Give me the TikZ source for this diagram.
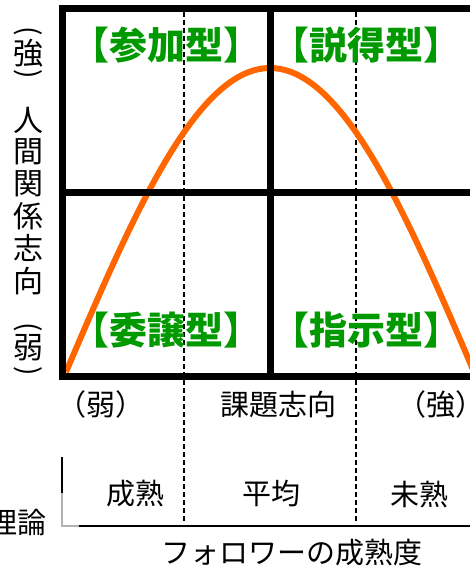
\documentclass[tikz,border=0pt]{standalone}
\usepackage{fontspec}
\newfontfamily\cjk{Noto Sans CJK JP}
\definecolor{lgreen}{HTML}{009900}
\definecolor{lorange}{HTML}{FF6600}
\begin{document}
\begin{tikzpicture}[x=1pt,y=-1pt,
  frameline/.style={line width=7pt, black},
  dashline/.style={line width=1.5pt, black, dash pattern=on 5pt off 3pt},
  thinline/.style={line width=1.5pt, black},
  greyline/.style={line width=1.5pt, black!30},
  curveline/.style={line width=6pt, lorange},
  glab/.style={inner sep=0pt, text=lgreen, font=\cjk\bfseries\fontsize{38}{40}\selectfont},
  blab/.style={inner sep=0pt, text=black, font=\cjk\fontsize{29}{31}\selectfont},
  vlab/.style={inner sep=0pt, text=black, font=\cjk\fontsize{30}{31}\selectfont},
  vparen/.style={inner sep=0pt, text=black, rotate=-90, font=\cjk\fontsize{28}{30}\selectfont},
  ]
\useasboundingbox (0,0) rectangle (470,567);
\clip (0,0) rectangle (470,567);
% dashed guides
\coordinate (d1t) at (184,12);
\coordinate (d1b) at (184,523);
\coordinate (d2t) at (356,12);
\coordinate (d2b) at (356,523);
\draw[dashline] (d1t) -- (d1b);
\draw[dashline] (d2t) -- (d2b);
% curve
\draw[curveline] plot[domain=66:474, samples=120, smooth] (\x, {372-304*sin(0.4411765*(\x-66))});
% frame
\draw[frameline] (62,8.5) rectangle (490,376);
\draw[frameline] (62,192) -- (490,192);
\draw[frameline] (270,8.5) -- (270,376);
% quadrant labels
\node[glab] (q1) at (166,45) {【参加型】};
\node[glab] (q2) at (366,45) {【説得型】};
\node[glab] (q3) at (166,330) {【委譲型】};
\node[glab] (q4) at (366,330) {【指示型】};
% vertical axis label
\node[vparen] (v1) at (28,31.5) {(};
\node[vlab] (v2) at (28,53) {強};
\node[vparen] (v3) at (28,74) {)};
\node[vlab] (v4) at (28,120) {人};
\node[vlab] (v5) at (28,152) {間};
\node[vlab] (v6) at (28,184) {関};
\node[vlab] (v7) at (28,216) {係};
\node[vlab] (v8) at (28,248) {志};
\node[vlab] (v9) at (28,281) {向};
\node[vparen] (v10) at (28,327.5) {(};
\node[vlab] (v11) at (28,348) {弱};
\node[vparen] (v12) at (28,371) {)};
% horizontal axis labels
\node[blab] (h1) at (101,404) {（弱）};
\node[blab] (h2) at (278,404) {課題志向};
\node[blab] (h3) at (441,404) {（強）};
% maturity table
\coordinate (tl) at (62,457);
\coordinate (tm) at (62,493);
\coordinate (tc) at (62,526);
\coordinate (tg) at (79,526);
\coordinate (tr) at (480,526);
\draw[thinline] (tl) -- (tm);
\draw[greyline] (tm) -- (tc) -- (tg);
\draw[thinline] (tg) -- (tr);
\node[blab] (m1) at (135,494) {成熟};
\node[blab] (m2) at (271,494) {平均};
\node[blab] (m3) at (419,494) {未熟};
\node[blab, anchor=east] (th) at (47,522) {理論};
\node[blab] (fx) at (292,553) {フォロワーの成熟度};
\end{tikzpicture}
\end{document}
